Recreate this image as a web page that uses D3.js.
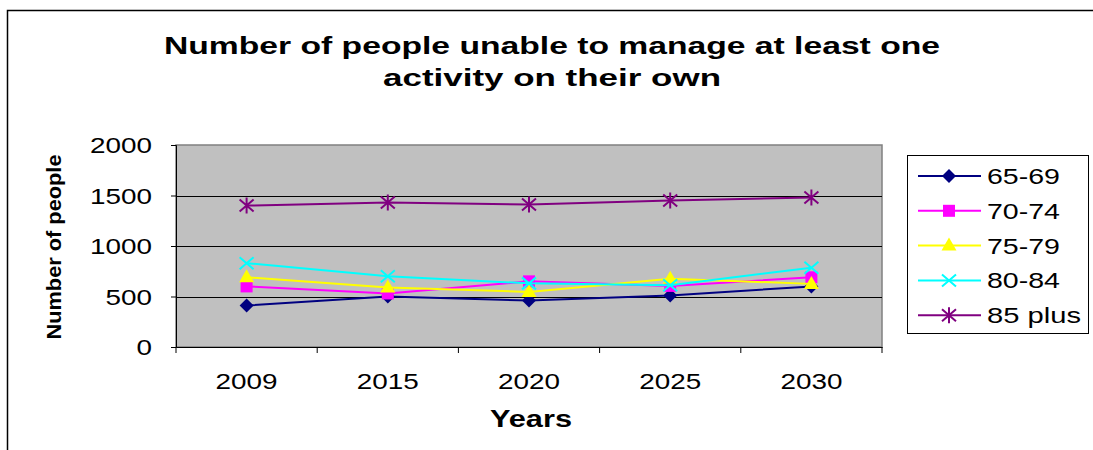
<!DOCTYPE html>
<html><head><meta charset="utf-8">
<script src="https://cdn.jsdelivr.net/npm/d3@7"></script>
<style>body{margin:0;background:#fff}svg{display:block;font-family:"Liberation Sans",Arial,sans-serif}</style>
</head><body><svg id="c" width="1093" height="450"></svg>
<script>
const categories = ["2009","2015","2020","2025","2030"];
const seriesNames = ["65-69","70-74","75-79","80-84","85 plus"];
const s6569 = [410, 500, 460, 510, 600];
const s7074 = [600, 530, 650, 605, 690];
const s7579 = [690, 590, 545, 675, 625];
const s8084 = [830, 700, 630, 612, 785];
const s85 = [1400, 1430, 1410, 1450, 1480];
const yTicks = [0, 500, 1000, 1500, 2000];
const title = ["Number of people unable to manage at least one", "activity on their own"];

const series = [s6569, s7074, s7579, s8084, s85];
const colors = ["#000080", "#FF00FF", "#FFFF00", "#00FFFF", "#800080"];
const shapes = ["diamond", "square", "triangle", "x", "star"];

const svg = d3.select("#c");
svg.append("path").attr("d", "M7.5,450 V10.5 H1093").attr("fill", "none").attr("stroke", "#000").attr("stroke-width", 1.5);

const L = 176, R = 882, T = 145, B = 347;
const x = d3.scaleBand().domain(categories).range([L, R]);
const y = d3.scaleLinear().domain([0, 2000]).range([B, T]);

svg.append("rect").attr("x", L).attr("y", T).attr("width", R - L).attr("height", B - T)
  .attr("fill", "#c0c0c0").attr("stroke", "#808080").attr("stroke-width", 1.5);

svg.append("g").selectAll("line").data(yTicks.filter(d => d > 0 && d < 2000)).join("line")
  .attr("x1", L).attr("x2", R).attr("y1", d => Math.round(y(d)) + 0.5).attr("y2", d => Math.round(y(d)) + 0.5)
  .attr("stroke", "#000").attr("stroke-width", 1);

const yAxis = svg.append("g").attr("transform", `translate(${L},0)`)
  .call(d3.axisLeft(y).tickValues(yTicks).tickSize(5).tickFormat(""));
yAxis.select(".domain").attr("stroke", "#000");
yAxis.selectAll(".tick line").attr("stroke", "#000");
svg.append("g").selectAll("text").data(yTicks).join("text")
  .attr("x", 152).attr("y", d => y(d) + 8).attr("text-anchor", "end")
  .attr("font-size", 22).attr("textLength", d => String(d).length * 15.5).attr("lengthAdjust", "spacingAndGlyphs")
  .text(d => d);

const xAxis = svg.append("g").attr("transform", `translate(0,${B})`)
  .call(d3.axisBottom(x).tickSize(0).tickFormat(""));
xAxis.select(".domain").attr("stroke", "#000");
svg.append("g").selectAll("line").data(d3.range(categories.length + 1)).join("line")
  .attr("x1", i => L + i * x.step()).attr("x2", i => L + i * x.step())
  .attr("y1", B).attr("y2", B + 6).attr("stroke", "#000");
svg.append("g").selectAll("text").data(categories).join("text")
  .attr("x", d => x(d) + x.bandwidth() / 2).attr("y", 389).attr("text-anchor", "middle")
  .attr("font-size", 22).attr("textLength", 62).attr("lengthAdjust", "spacingAndGlyphs")
  .text(d => d);

svg.append("g").selectAll("text").data(title).join("text")
  .attr("x", 552).attr("y", (d, i) => 54 + i * 32).attr("text-anchor", "middle")
  .attr("font-size", 24).attr("font-weight", "bold")
  .attr("textLength", (d, i) => i === 0 ? 776 : 338).attr("lengthAdjust", "spacingAndGlyphs")
  .text(d => d);
svg.append("text").attr("x", 531).attr("y", 427).attr("text-anchor", "middle")
  .attr("font-size", 23).attr("font-weight", "bold").attr("textLength", 82).attr("lengthAdjust", "spacingAndGlyphs")
  .text("Years");
svg.append("text").attr("transform", "translate(61,247) rotate(-90)").attr("text-anchor", "middle")
  .attr("font-size", 21).attr("font-weight", "bold").attr("textLength", 185).attr("lengthAdjust", "spacingAndGlyphs")
  .text("Number of people");

function marker(g, shape, color, cx, cy) {
  if (shape === "diamond") {
    g.append("path").attr("d", `M${cx},${cy - 7}L${cx + 7},${cy}L${cx},${cy + 7}L${cx - 7},${cy}Z`).attr("fill", color);
  } else if (shape === "square") {
    g.append("rect").attr("x", cx - 6).attr("y", cy - 6).attr("width", 12).attr("height", 12).attr("fill", color);
  } else if (shape === "triangle") {
    g.append("path").attr("d", `M${cx},${cy - 8}L${cx + 7.5},${cy + 5}L${cx - 7.5},${cy + 5}Z`).attr("fill", color);
  } else if (shape === "x") {
    g.append("path").attr("d", `M${cx - 7},${cy - 6}L${cx + 7},${cy + 6}M${cx - 7},${cy + 6}L${cx + 7},${cy - 6}`)
      .attr("stroke", color).attr("stroke-width", 2).attr("fill", "none");
  } else if (shape === "star") {
    g.append("path").attr("d", `M${cx - 7},${cy - 6}L${cx + 7},${cy + 6}M${cx - 7},${cy + 6}L${cx + 7},${cy - 6}M${cx},${cy - 8}V${cy + 8}`)
      .attr("stroke", color).attr("stroke-width", 2).attr("fill", "none");
  }
}

const line = d3.line().x((d, i) => x(categories[i]) + x.bandwidth() / 2).y(d => y(d));
series.forEach((vals, k) => {
  const g = svg.append("g");
  g.append("path").attr("d", line(vals)).attr("fill", "none").attr("stroke", colors[k]).attr("stroke-width", 2);
  vals.forEach((v, i) => marker(g, shapes[k], colors[k], x(categories[i]) + x.bandwidth() / 2, y(v)));
});

svg.append("rect").attr("x", 907.5).attr("y", 155.5).attr("width", 181).attr("height", 178)
  .attr("fill", "#fff").attr("stroke", "#000").attr("stroke-width", 1);
seriesNames.forEach((n, k) => {
  const ly = 176 + k * 34.8;
  const g = svg.append("g");
  g.append("line").attr("x1", 918).attr("x2", 981).attr("y1", ly).attr("y2", ly).attr("stroke", colors[k]).attr("stroke-width", 2);
  marker(g, shapes[k], colors[k], 949, ly);
  g.append("text").attr("x", 987).attr("y", ly + 8).attr("font-size", 22)
    .attr("textLength", n.length === 5 ? 73 : 94).attr("lengthAdjust", "spacingAndGlyphs").text(n);
});
</script></body></html>
